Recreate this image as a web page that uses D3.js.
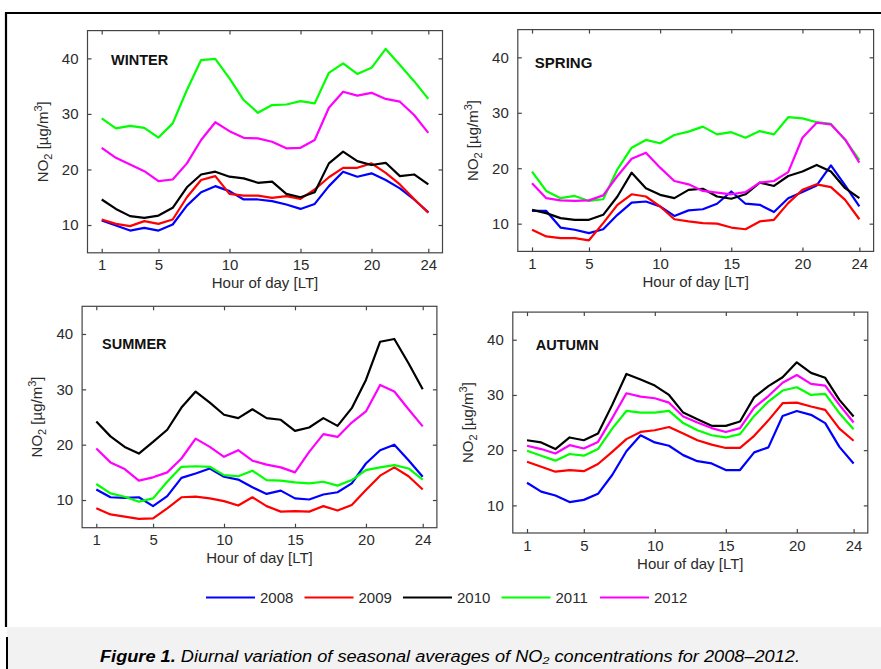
<!DOCTYPE html>
<html>
<head>
<meta charset="utf-8">
<script src="https://cdn.jsdelivr.net/npm/d3@7"></script>
<style>
  html, body { margin: 0; padding: 0; background: #fff; }
  svg { display: block; }
  text { font-family: "Liberation Sans", Arial, sans-serif; }
</style>
</head>
<body>
<svg id="chart" width="881" height="669"></svg>
<script>
// ---------------- DATA ----------------
const hours = [1,2,3,4,5,6,7,8,9,10,11,12,13,14,15,16,17,18,19,20,21,22,23,24];
const years = ["2008", "2009", "2010", "2011", "2012"];
const seasons = ["WINTER", "SPRING", "SUMMER", "AUTUMN"];
const xTicks = [1, 5, 10, 15, 20, 24];
const yTicks = [10, 20, 30, 40];

const winter2008 = [10.8,9.9,9.0,9.5,9.0,10.1,13.5,15.9,17.0,16.1,14.6,14.6,14.3,13.7,12.9,13.8,17.0,19.6,18.7,19.3,18.1,16.6,14.6,12.3];
const winter2009 = [11.0,10.2,9.8,10.7,10.2,11.0,15.0,18.1,18.8,15.6,15.3,15.3,14.9,15.2,14.7,16.4,18.6,20.3,20.3,21.1,19.4,17.3,14.7,12.2];
const winter2010 = [14.6,12.9,11.6,11.3,11.7,13.1,16.8,19.1,19.6,18.7,18.4,17.6,17.8,15.6,15.0,15.9,21.1,23.2,21.5,20.8,21.2,18.8,19.1,17.3];
const winter2011 = [29.2,27.4,27.85,27.5,25.75,28.3,34.3,39.7,39.9,36.4,32.5,30.2,31.6,31.7,32.3,31.9,37.4,39.1,37.2,38.3,41.7,38.8,35.9,32.7];
const winter2012 = [23.9,22.1,20.9,19.7,17.9,18.2,21.1,25.3,28.5,26.9,25.7,25.6,25.0,23.8,23.9,25.3,31.1,34.0,33.3,33.8,32.7,32.2,29.8,26.6];

const spring2008 = [12.3,12.3,9.3,8.9,8.3,9.0,11.6,13.8,14.0,13.1,11.4,12.4,12.6,13.6,15.8,13.6,13.4,12.1,14.6,15.7,16.9,20.5,16.9,13.1];
const spring2009 = [8.9,7.7,7.4,7.4,7.0,10.1,13.4,15.3,14.9,13.1,10.8,10.4,10.1,10.0,9.3,9.0,10.4,10.7,13.7,16.1,17.1,16.6,14.3,10.8];
const spring2010 = [12.5,11.9,11.0,10.7,10.7,11.6,14.9,19.2,16.4,15.2,14.6,16.1,16.3,14.9,14.5,15.3,17.4,16.8,18.6,19.4,20.6,19.4,16.4,14.6];
const spring2011 = [19.4,15.9,14.6,15.0,14.1,14.4,19.8,23.7,25.1,24.5,26.0,26.6,27.5,26.1,26.5,25.5,26.7,26.1,29.2,29.0,28.3,28.0,25.1,21.5];
const spring2012 = [17.3,14.6,14.2,14.1,14.2,15.1,18.6,21.7,22.8,20.1,17.7,17.1,15.9,15.6,15.3,15.7,17.4,17.7,19.3,25.5,28.2,27.9,25.2,21.0];

const summer2008 = [11.9,10.5,10.4,10.5,8.9,10.7,14.0,14.8,15.7,14.2,13.7,12.3,11.1,11.7,10.3,10.1,11.0,11.4,13.0,16.6,19.0,20.0,17.2,14.2];
const summer2009 = [8.5,7.4,7.0,6.6,6.7,8.5,10.5,10.6,10.3,9.8,9.0,10.5,8.9,7.9,8.0,7.9,8.9,8.1,9.1,11.8,14.4,15.9,14.3,11.9];
const summer2010 = [24.2,21.5,19.6,18.4,20.5,22.7,26.7,29.6,27.6,25.4,24.8,26.4,24.8,24.5,22.5,23.1,24.8,23.4,26.6,31.7,38.6,39.1,34.7,30.0];
const summer2011 = [12.9,11.2,10.6,9.7,10.3,13.3,16.0,16.1,16.0,14.5,14.3,15.3,13.6,13.5,13.2,13.0,13.3,12.6,13.6,15.4,15.9,16.3,15.7,13.7];
const summer2012 = [19.3,16.8,15.6,13.5,14.1,15.0,17.5,21.1,19.6,17.8,19.0,17.1,16.4,15.9,15.0,18.7,21.9,21.4,24.0,26.0,30.8,29.6,26.4,23.3];

const autumn2008 = [14.1,12.5,11.8,10.6,11.0,12.1,15.5,19.8,22.7,21.4,20.8,19.1,18.0,17.6,16.4,16.4,19.6,20.5,26.2,27.1,26.4,24.9,20.6,17.6];
const autumn2009 = [17.9,17.0,16.1,16.4,16.2,17.5,19.7,22.0,23.3,23.6,24.2,23.0,21.8,21.0,20.4,20.4,22.6,25.4,28.5,28.6,27.9,27.3,23.9,21.7];
const autumn2010 = [21.8,21.4,20.2,22.3,21.8,23.0,28.2,33.8,32.8,31.7,30.0,26.8,25.6,24.4,24.4,25.2,29.6,31.6,33.2,35.9,34.0,33.1,29.1,26.1];
const autumn2011 = [19.9,19.0,18.1,19.3,19.0,20.2,23.9,27.1,26.8,26.8,27.1,24.9,23.6,22.7,22.3,22.9,26.2,28.8,30.8,31.4,30.0,30.2,26.7,23.8];
const autumn2012 = [20.8,20.2,19.4,20.9,20.3,21.5,25.8,30.3,29.7,29.4,28.6,26.1,25.0,24.0,23.3,24.0,27.7,29.8,32.2,33.6,32.0,31.7,28.2,25.0];

// table built from the arrays
const seasonData = {
  WINTER: [winter2008, winter2009, winter2010, winter2011, winter2012],
  SPRING: [spring2008, spring2009, spring2010, spring2011, spring2012],
  SUMMER: [summer2008, summer2009, summer2010, summer2011, summer2012],
  AUTUMN: [autumn2008, autumn2009, autumn2010, autumn2011, autumn2012]
};

// ---------------- STYLE / LAYOUT ----------------
const yearColors = ["#0000ff", "#ff0000", "#000000", "#00ff00", "#ff00ff"];
const panelLayout = {
  WINTER: { x0: 87.5, x1: 442.5, y0: 30.6, y1: 252.8, tx: 23.5, ty: 34, font: "'Liberation Sans', Arial, sans-serif" },
  SPRING: { x0: 517.8, x1: 873.6, y0: 29.6, y1: 251.4, tx: 17, ty: 38.5, font: "'Liberation Serif', 'Times New Roman', serif" },
  SUMMER: { x0: 82.1, x1: 436.9, y0: 306.3, y1: 527.7, tx: 20, ty: 43, font: "'Liberation Sans', Arial, sans-serif" },
  AUTUMN: { x0: 512.8, x1: 867.8, y0: 312.1, y1: 533.0, tx: 23, ty: 38, font: "'Liberation Sans', Arial, sans-serif" }
};
const textColor = "#2b2b2b";
const boxColor = "#444";

const svg = d3.select("#chart");

// outer frame
svg.append("line").attr("x1", 5).attr("x2", 881).attr("y1", 13).attr("y2", 13)
  .attr("stroke", "#000").attr("stroke-width", 2.2);
svg.append("line").attr("x1", 6).attr("x2", 6).attr("y1", 12).attr("y2", 627)
  .attr("stroke", "#000").attr("stroke-width", 2.2);

// caption band
svg.append("rect").attr("x", 7).attr("y", 627).attr("width", 874).attr("height", 42).attr("fill", "#f2f2f2");
svg.append("line").attr("x1", 7).attr("x2", 7).attr("y1", 637).attr("y2", 669)
  .attr("stroke", "#000").attr("stroke-width", 2);

seasons.forEach(season => {
  const L = panelLayout[season];
  const x = d3.scaleLinear().domain([0, 25]).range([L.x0, L.x1]);
  const y = d3.scaleLinear().domain([5, 45]).range([L.y1, L.y0]);
  const g = svg.append("g");

  // clip
  const clipId = "clip-" + season;
  svg.append("clipPath").attr("id", clipId).append("rect")
    .attr("x", L.x0).attr("y", L.y0).attr("width", L.x1 - L.x0).attr("height", L.y1 - L.y0);

  // axes via d3 (ticks inward)
  const axB = d3.axisBottom(x).tickValues(xTicks).tickSize(-4).tickPadding(7).tickFormat(d3.format("d"));
  const axT = d3.axisTop(x).tickValues(xTicks).tickSize(-4).tickFormat("");
  const axL = d3.axisLeft(y).tickValues(yTicks).tickSize(-4).tickPadding(9).tickFormat(d3.format("d"));
  const axR = d3.axisRight(y).tickValues(yTicks).tickSize(-4).tickFormat("");

  const gb = g.append("g").attr("transform", `translate(0,${L.y1})`).call(axB);
  const gt = g.append("g").attr("transform", `translate(0,${L.y0})`).call(axT);
  const gl = g.append("g").attr("transform", `translate(${L.x0},0)`).call(axL);
  const gr = g.append("g").attr("transform", `translate(${L.x1},0)`).call(axR);
  [gb, gt, gl, gr].forEach(a => {
    a.select(".domain").remove();
    a.selectAll(".tick line").attr("stroke", boxColor).attr("stroke-width", 1.2);
    a.selectAll("text").attr("fill", textColor).attr("font-size", 15)
      .attr("font-family", "'Liberation Sans', Arial, sans-serif");
  });

  // box
  g.append("rect").attr("x", L.x0).attr("y", L.y0)
    .attr("width", L.x1 - L.x0).attr("height", L.y1 - L.y0)
    .attr("fill", "none").attr("stroke", boxColor).attr("stroke-width", 1.2);

  // lines
  const line = d3.line().x((d, i) => x(hours[i])).y(d => y(d));
  seasonData[season].forEach((vals, k) => {
    g.append("path").datum(vals).attr("d", line)
      .attr("fill", "none").attr("stroke", yearColors[k]).attr("stroke-width", 2.2)
      .attr("stroke-linejoin", "round").attr("clip-path", `url(#${clipId})`);
  });

  // season title
  g.append("text").attr("x", L.x0 + L.tx).attr("y", L.y0 + L.ty)
    .attr("font-family", L.font).attr("font-weight", "bold")
    .attr("font-size", season === "SPRING" ? 15 : 14.5).attr("fill", "#111")
    .text(season);

  // x label
  g.append("text").attr("x", (L.x0 + L.x1) / 2).attr("y", L.y1 + 35.5)
    .attr("text-anchor", "middle").attr("font-size", 15).attr("fill", textColor)
    .text("Hour of day [LT]");

  // y label
  const cy = (L.y0 + L.y1) / 2;
  const yl = g.append("text").attr("transform", `translate(${L.x0 - 40},${cy}) rotate(-90)`)
    .attr("text-anchor", "middle").attr("font-size", 15).attr("fill", textColor);
  yl.append("tspan").text("NO");
  yl.append("tspan").attr("dy", 4).attr("font-size", 11).text("2");
  yl.append("tspan").attr("dy", -4).text(" [\u00b5g/m");
  yl.append("tspan").attr("dy", -6).attr("font-size", 11).text("3");
  yl.append("tspan").attr("dy", 6).text("]");
});

// legend
const legendX0 = 206, legendStep = 98.5, legendY = 597.5;
years.forEach((yr, k) => {
  const lx = legendX0 + k * legendStep;
  svg.append("line").attr("x1", lx).attr("x2", lx + 49).attr("y1", legendY).attr("y2", legendY)
    .attr("stroke", yearColors[k]).attr("stroke-width", 2.2);
  svg.append("text").attr("x", lx + 54).attr("y", legendY + 5.5)
    .attr("font-size", 15).attr("fill", textColor).text(yr);
});

// caption
const cap = svg.append("text").attr("x", 100).attr("y", 662)
  .attr("font-family", "Lato, 'Open Sans', sans-serif").attr("font-style", "italic")
  .attr("font-size", 16).attr("fill", "#000")
  .attr("textLength", 700).attr("lengthAdjust", "spacingAndGlyphs");
cap.append("tspan").attr("font-weight", "bold").text("Figure 1.");
cap.append("tspan").text(" Diurnal variation of seasonal averages of NO\u2082 concentrations for 2008\u20132012.");
</script>
</body>
</html>
